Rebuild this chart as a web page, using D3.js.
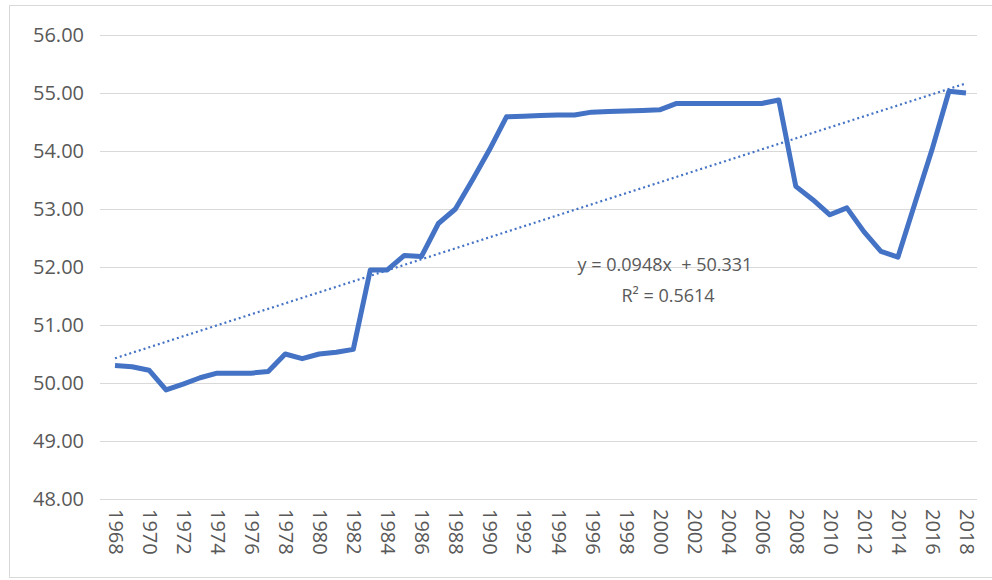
<!DOCTYPE html>
<html>
<head>
<meta charset="utf-8">
<script src="https://cdn.jsdelivr.net/npm/d3@7"></script>
<style>
  html, body { margin: 0; padding: 0; background: #fff; }
  svg { display: block; }
  text { font-family: "Open Sans", "Noto Sans", sans-serif; fill: #595959; }
  .eq { white-space: pre; }
</style>
</head>
<body>
<script>
// Annual values, 1968–2018
const years = d3.range(1968, 2019);
const values = [
  50.30, 50.28, 50.22, 49.88, 49.98, 50.09, 50.17, 50.17, 50.17, 50.20,
  50.50, 50.42, 50.50, 50.53, 50.58, 51.95, 51.95, 52.20, 52.18, 52.75,
  53.00, 53.50, 54.02, 54.59, 54.60, 54.61, 54.62, 54.62, 54.67, 54.68,
  54.69, 54.70, 54.71, 54.82, 54.82, 54.82, 54.82, 54.82, 54.82, 54.88,
  53.39, 53.16, 52.90, 53.02, 52.61, 52.27, 52.17, 53.10, 54.02, 55.03,
  55.00
];
const yTicks = [48, 49, 50, 51, 52, 53, 54, 55, 56];
const xTickYears = years.filter(y => (y - 1968) % 2 === 0);

// Linear trend: y = slope * n + intercept, n = 1..51
const trendSlope = 0.0948;
const trendIntercept = 50.331;
const trendLabel = ["y = 0.0948x  + 50.331", "R\u00B2 = 0.5614"];

const W = 992, H = 580;
const plot = { left: 100, right: 977, top: 35, bottom: 499 };

const svg = d3.select("body").append("svg")
  .attr("width", W).attr("height", H);

// Chart frame
svg.append("rect")
  .attr("x", 9.5).attr("y", 5.5)
  .attr("width", W + 10).attr("height", 572)
  .attr("fill", "#fff").attr("stroke", "#d9d9d9").attr("stroke-width", 1);

const x = d3.scalePoint().domain(years).range([115, 966]);
const y = d3.scaleLinear().domain([48, 56]).range([plot.bottom, plot.top]);

// Horizontal gridlines
svg.append("g").selectAll("line").data(yTicks).join("line")
  .attr("x1", plot.left).attr("x2", plot.right)
  .attr("y1", d => Math.round(y(d)) + 0.5).attr("y2", d => Math.round(y(d)) + 0.5)
  .attr("stroke", "#d9d9d9").attr("stroke-width", 1);

// Y axis labels
const yAxis = d3.axisLeft(y).tickValues(yTicks).tickFormat(d3.format(".2f")).tickSize(0).tickPadding(0);
const yg = svg.append("g").attr("transform", "translate(84,0)").call(yAxis);
yg.select(".domain").remove();
yg.selectAll("text")
  .attr("font-size", 20).attr("fill", "#595959")
  .style("font-family", "'Open Sans', sans-serif");

// X axis labels, rotated
const xAxis = d3.axisBottom(x).tickValues(xTickYears).tickSize(0).tickPadding(0);
const xg = svg.append("g").attr("transform", `translate(0,${plot.bottom})`).call(xAxis);
xg.select(".domain").remove();
xg.selectAll("text")
  .attr("font-size", 20).attr("fill", "#595959")
  .style("font-family", "'Open Sans', sans-serif")
  .attr("text-anchor", "start")
  .attr("dy", null)
  .attr("dominant-baseline", "central")
  .attr("transform", "translate(1,10) rotate(90)")
  .attr("y", 0).attr("x", 0);

// Data line
const line = d3.line().x((d, i) => x(years[i])).y(d => y(d));
svg.append("path")
  .datum(values)
  .attr("fill", "none")
  .attr("stroke", "#4472c4")
  .attr("stroke-width", 5)
  .attr("stroke-linejoin", "round")
  .attr("d", line);

// Dotted trendline
const trendPts = [years[0], years[years.length - 1]].map(yr => {
  const n = yr - 1968 + 1;
  return [x(yr), y(trendSlope * n + trendIntercept)];
});
svg.append("path")
  .attr("d", d3.line()(trendPts))
  .attr("fill", "none")
  .attr("stroke", "#4472c4")
  .attr("stroke-width", 2.2)
  .attr("stroke-dasharray", "2,3");

// Trend equation
svg.append("text")
  .attr("class", "eq")
  .attr("x", 665).attr("y", 271)
  .attr("text-anchor", "middle").attr("font-size", 18)
  .text(trendLabel[0]);
svg.append("text")
  .attr("class", "eq")
  .attr("x", 668).attr("y", 302)
  .attr("text-anchor", "middle").attr("font-size", 18)
  .text(trendLabel[1]);
</script>
</body>
</html>
